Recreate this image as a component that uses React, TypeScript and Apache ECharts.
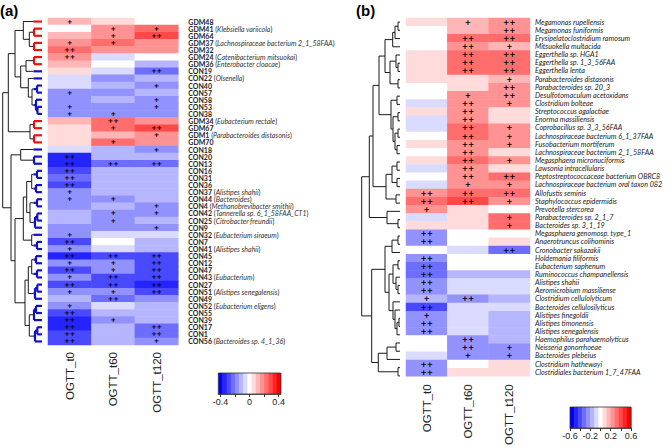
import React, { useEffect, useRef } from "react";
import * as echarts from "echarts";

// ---------------- data ----------------
const timepoints = ["OGTT_t0", "OGTT_t60", "OGTT_t120"];

const samplesA = ["GDM48","GDM41","GDM64","GDM37","GDM32","GDM24","GDM36","CON19","CON22","CON40","CON57","CON58","CON53","CON38","GDM34","GDM67","GDM1","GDM70","CON18","CON20","CON13","CON16","CON31","CON36","CON37","CON44","CON4","CON42","CON25","CON9","CON32","CON7","CON41","CON45","CON12","CON47","CON43","CON27","CON51","CON49","CON52","CON55","CON39","CON17","CON1","CON56"];
const taxaA = ["","Klebsiella variicola","","Lachnospiraceae bacterium 2_1_58FAA","","Catenibacterium mitsuokai","Enterobacter cloacae","","Olsenella","","","","","","Eubacterium rectale","","Parabacteroides distasonis","","","","","","","","Alistipes shahii","Bacteroides","Methanobrevibacter smithii","Tannerella sp. 6_1_58FAA_CT1","Citrobacter freundii","","Eubacterium siraeum","","Alistipes shahii","","","","Eubacterium","","Alistipes senegalensis","","Eubacterium eligens","","","","","Bacteroides sp. 4_1_36"];

const t0A = [0.12,0,0.1,0.17,0.22,0.17,0.1,0.05,-0.07,-0.07,-0.18,-0.17,-0.18,-0.2,0.1,0.06,0.06,0.06,-0.05,-0.36,-0.34,-0.27,-0.25,-0.3,-0.18,-0.17,-0.16,-0.12,-0.12,-0.15,-0.18,-0.26,-0.2,-0.34,-0.2,-0.27,-0.18,-0.27,-0.2,-0.12,-0.2,-0.27,-0.33,-0.32,-0.28,-0.28];
const t60A = [0.06,0.16,0.18,0.24,0.17,-0.05,0,-0.07,-0.17,-0.12,-0.17,-0.1,-0.15,-0.17,0.22,0.22,0.12,0.22,-0.12,-0.12,-0.25,-0.14,-0.12,-0.12,-0.12,-0.2,-0.12,-0.2,-0.17,-0.15,-0.05,0,-0.06,-0.27,-0.2,-0.2,-0.27,-0.28,-0.2,-0.25,-0.05,-0.1,-0.18,-0.1,-0.1,-0.1];
const t120A = [0,0.25,0.3,0.18,0.18,0,-0.1,-0.25,-0.14,-0.17,-0.12,-0.17,-0.18,-0.16,0.15,0.3,0.2,0.15,-0.2,-0.12,-0.25,-0.14,-0.12,-0.12,-0.12,-0.12,-0.17,-0.18,-0.12,-0.17,-0.07,-0.1,-0.1,-0.28,-0.28,-0.28,-0.28,-0.33,-0.28,-0.18,-0.1,-0.1,-0.1,-0.25,-0.25,-0.2];

const sigT0A = ["+","","","+","++","++","","","","","+","","+","+","","","","","","++","++","++","++","++","+","+","","","","","+","++","+","++","+","++","+","++","+","","+","++","++","++","++","++"];
const sigT60A = ["","+","+","+","","","","","","","","","","+","++","+","","+","","","++","","","","","+","","+","+","","","","","++","+","+","++","++","+","++","","","+","","",""];
const sigT120A = ["","+","++","","","","","++","","+","","+","+","","","++","+","","+","","++","","","","","","+","+","","+","","","","++","++","++","++","++","++","","","","","++","++","+"];

const speciesB = ["Megamonas rupellensis","Megamonas funiformis","Erysipelatoclostridium ramosum","Mitsuokella multacida","Eggerthella sp. HGA1","Eggerthella sp. 1_3_56FAA","Eggerthella lenta","Parabacteroides distasonis","Parabacteroides sp. 20_3","Desulfotomaculum acetoxidans","Clostridium bolteae","Streptococcus agalactiae","Enorma massiliensis","Coprobacillus sp. 3_3_56FAA","Lachnospiraceae bacterium 6_1_37FAA","Fusobacterium mortiferum","Lachnospiraceae bacterium 2_1_58FAA","Megasphaera micronuciformis","Lawsonia intracellularis","Peptostreptococcaceae bacterium OBRC8","Lachnospiraceae bacterium oral taxon 082","Allofustis seminis","Staphylococcus epidermidis","Prevotella stercorea","Parabacteroides sp. 2_1_7","Bacteroides sp. 3_1_19","Megasphaera genomosp. type_1","Anaerotruncus colihominis","Cronobacter sakazakii","Holdemania filiformis","Eubacterium saphenum","Ruminococcus champanellensis","Alistipes shahii","Aeromicrobium massiliense","Clostridium cellulolyticum","Bacteroides cellulosilyticus","Alistipes finegoldii","Alistipes timonensis","Alistipes senegalensis","Haemophilus parahaemolyticus","Neisseria gonorrhoeae","Bacteroides plebeius","Clostridium hathewayi","Clostridiales bacterium 1_7_47FAA"];

const t0B = [0.08,0,0,0,0.08,0.08,0.08,0.08,0,0,-0.08,0.08,-0.08,-0.08,0,0.08,0,0.08,-0.08,0,-0.08,0.24,0.33,0.26,-0.08,0.08,-0.25,-0.25,0,-0.26,-0.33,-0.34,-0.25,-0.26,-0.17,-0.38,-0.25,-0.25,-0.25,0,0,-0.08,-0.25,-0.25];
const t60B = [0.17,0.16,0.31,0.24,0.32,0.32,0.32,0.1,0.1,0.22,0.24,0.24,0.24,0.3,0.3,0.24,0.24,0.32,0.24,0.26,0.22,0.3,0.38,0.1,0.1,0.1,0,0,-0.08,0,0,-0.17,-0.08,-0.08,-0.25,-0.08,-0.08,-0.08,-0.08,-0.26,-0.26,-0.26,0,0.08];
const t120B = [0.22,0.22,0.33,0.14,0.31,0.31,0.31,0.17,0.22,0.22,0.22,0.08,0.05,0.22,0.22,0.22,0.1,0.22,0.1,0.3,0.22,0.33,0.22,0,0.3,0.3,0,0.08,-0.33,0,0,-0.17,-0.08,-0.08,-0.17,-0.08,-0.17,-0.17,-0.17,-0.17,-0.25,-0.25,0.08,0.08];

const sigT0B = ["","","","","","","","","","","","","","","","","","","","","","++","++","+","","","++","++","","++","++","++","++","++","+","++","+","++","++","","","","++","++"];
const sigT60B = ["+","","++","++","++","++","++","","","+","++","++","++","++","++","++","++","++","++","++","+","++","++","","","","","","","","","","","","++","","","","","++","++","+","",""];
const sigT120B = ["++","++","++","+","++","++","++","+","++","++","+","","","+","+","+","","+","","++","+","++","+","","+","+","","","++","","","","","","","","","","","","+","+","",""];

// dendrograms: [height, left, right]; leaves are row indices
const treeA: any = [39.3,
  [33.7,
    [27,
      [18.7, 0, [12.7, [8, 1, 2], [8, 3, 4]]],
      [21.3,
        [16, [8, 5, 6], 7],
        [13.7, 8, [10, [5, 9, 10], [6, 11, [4.5, 12, 13]]]]]],
    [12, [8, 14, 15], [8, 16, 17]]],
  [31,
    [21.3, 18, [8, 19, 20]],
    [27,
      [18.7,
        [15.3, [10.3, [5, 21, 22], [6, 23, 24]], [12, [5, 25, 26], [7, [4.7, 27, 28], 29]]],
        [10.3, 30, [5, 31, 32]]],
      [17,
        [13.7, [10.3, [6, 33, 34], [5, 35, 36]], [7, [4.7, 37, 38], 39]],
        [12.7, [8, [6, 40, 41], 42], [7, [4.7, 43, 44], 45]]]]]];

const treeB: any = [38.3,
  [30.7,
    [27,
      [21,
        [15,
          [7.3, [5, [2, 0, 1], 2], 3],
          [10, [4, 4, [2, 5, 6]], [2, 7, 8]]],
        [9, [3, 9, 10], [7, [2, 11, 12], [5, [2, 13, 14], [3, 15, 16]]]]],
      [14, [8, [3, 17, 18], [3, 19, 20]], [4, 21, 22]]],
    [13, 23, [2, 24, 25]]],
  [28.3,
    [15,
      [8, [2, 26, 27], 28],
      [11,
        [7, [2, 29, 30], [4, 31, [2, 32, 33]]],
        [7, 34, [5, 35, [3, [1, 36, 37], 38]]]]],
    [21.7, [13, [4, 39, 40], 41], [2, 42, 43]]]];

// ---------------- helpers ----------------
const NBINS = 15;
function palette(n: number): string[] {
  const out: string[] = [];
  for (let k = 0; k < n; k++) {
    const t = k / (n - 1);
    let r: number, g: number, b: number;
    if (t < 0.5) { const v = Math.round(255 * 2 * t); r = v; g = v; b = 255; }
    else { const v = Math.round(255 * (2 - 2 * t)); r = 255; g = v; b = v; }
    out.push(`rgb(${r},${g},${b})`);
  }
  return out;
}
const PAL = palette(NBINS);
function pieces(R: number) {
  const w = (2 * R) / NBINS;
  return PAL.map((c, k) => {
    const p: any = { color: c };
    if (k > 0) p.gte = -R + w * k;
    if (k < NBINS - 1) p.lt = -R + w * (k + 1);
    return p;
  });
}
function keyBins(R: number) {
  const w = (2 * R) / NBINS;
  const d: number[][] = PAL.map((_, k) => [-R + w * k, -R + w * (k + 1), k]);
  d.push([-R, R, -1]);
  return d;
}

const BLACK = "#1a1a1a";
type Seg = { h1: number; y1: number; h2: number; y2: number; color: string; w: number };
function buildDendro(tree: any, leafColor: (i: number) => string | null, cut: number): Seg[] {
  const segs: Seg[] = [];
  const addH = (h0: number, h1: number, y: number, col: string | null) => {
    if (col && h0 < cut) {
      segs.push({ h1: h0, y1: y, h2: Math.min(h1, cut), y2: y, color: col, w: 2.2 });
      if (h1 > cut) segs.push({ h1: cut, y1: y, h2: h1, y2: y, color: BLACK, w: 1 });
    } else segs.push({ h1: h0, y1: y, h2: h1, y2: y, color: BLACK, w: 1 });
  };
  const rec = (node: any): { y: number; h: number; col: string | null } => {
    if (typeof node === "number") return { y: node, h: 0, col: leafColor(node) };
    const [h, l, r] = node;
    const a = rec(l), b = rec(r);
    addH(a.h, h, a.y, a.col);
    addH(b.h, h, b.y, b.col);
    const col = a.col && a.col === b.col ? a.col : null;
    const vcol = col && h <= cut ? col : null;
    segs.push({ h1: h, y1: a.y, h2: h, y2: b.y, color: vcol || BLACK, w: vcol ? 2.2 : 1 });
    return { y: (a.y + b.y) / 2, h, col };
  };
  rec(tree);
  return segs;
}

const segsA = buildDendro(treeA, (i) => (samplesA[i].startsWith("GDM") ? "#ee1111" : "#1111cc"), 8.5);
const segsB = buildDendro(treeB, () => null, 0);

function cells(cols: number[][], sigs: string[][]) {
  const out: any[] = [];
  cols.forEach((col, x) => col.forEach((v, y) => out.push([x, y, v, sigs[x][y]])));
  return out;
}

function dendroSeries(segs: Seg[], idx: number) {
  return {
    type: "custom",
    xAxisIndex: idx,
    yAxisIndex: idx,
    clip: false,
    silent: true,
    encode: { x: [0, 2], y: [1, 3] },
    data: segs.map((s, i) => [s.h1, s.y1, s.h2, s.y2, i]),
    renderItem: (_p: any, api: any) => {
      const s = segs[api.value(4)];
      const p1 = api.coord([s.h1, s.y1]);
      const p2 = api.coord([s.h2, s.y2]);
      return {
        type: "line",
        shape: { x1: p1[0], y1: p1[1], x2: p2[0], y2: p2[1] },
        style: { stroke: s.color, lineWidth: s.w, lineCap: "butt" },
      };
    },
  };
}

function keySeries(R: number, idx: number) {
  return {
    type: "custom",
    xAxisIndex: idx,
    yAxisIndex: idx,
    silent: true,
    clip: false,
    data: keyBins(R),
    renderItem: (_p: any, api: any) => {
      const k = api.value(2);
      const p1 = api.coord([api.value(0), 1]);
      const p2 = api.coord([api.value(1), 0]);
      if (k < 0) {
        return {
          type: "rect",
          shape: { x: p1[0], y: p1[1], width: p2[0] - p1[0], height: p2[1] - p1[1] },
          style: { fill: "none", stroke: "#333", lineWidth: 0.8 },
          z2: 10,
        };
      }
      return {
        type: "rect",
        shape: { x: p1[0], y: p1[1], width: p2[0] - p1[0] + 0.4, height: p2[1] - p1[1] },
        style: { fill: PAL[k] },
      };
    },
  };
}

function heatSeries(data: any[], idx: number, fontSize: number, lineHeight: number) {
  return {
    type: "heatmap",
    xAxisIndex: idx,
    yAxisIndex: idx,
    data,
    itemStyle: { borderWidth: 0 },
    emphasis: { disabled: true },
    label: {
      show: true,
      formatter: (p: any) => (p.value && p.value[3]) || "",
      fontSize,
      lineHeight,
      fontWeight: "bold",
      color: "#000",
      fontFamily: "DejaVu Sans",
    },
  };
}

const hidden = { show: false };
const xLabelAxis = (gridIndex: number, margin: number) => ({
  type: "category",
  gridIndex,
  data: timepoints,
  axisLine: hidden,
  axisTick: hidden,
  splitLine: hidden,
  axisLabel: { rotate: 90, margin, fontSize: 11.5, color: "#222", fontFamily: "Liberation Sans", interval: 0 },
});

const option: any = {
  animation: false,
  backgroundColor: "#fff",
  title: [
    { text: "(a)", left: 0, top: 3, padding: 0, textStyle: { fontSize: 15, fontWeight: "bold", fontFamily: "Liberation Sans", color: "#000" } },
    { text: "(b)", left: 356, top: 3, padding: 0, textStyle: { fontSize: 15, fontWeight: "bold", fontFamily: "Liberation Sans", color: "#000" } },
  ],
  grid: [
    { left: 2.7, top: 18, width: 39.3, height: 327 },
    { left: 48, top: 18, width: 130.3, height: 327 },
    { left: 218.3, top: 373, width: 62.5, height: 21 },
    { left: 361.7, top: 18, width: 38.3, height: 362 },
    { left: 406, top: 18, width: 124, height: 362 },
    { left: 570, top: 407, width: 61, height: 21 },
  ],
  xAxis: [
    { type: "value", gridIndex: 0, min: 0, max: 39.3, inverse: true, show: false },
    xLabelAxis(1, 7),
    {
      type: "value", gridIndex: 2, min: -0.43, max: 0.43,
      axisLine: { show: true, lineStyle: { color: "#333", width: 0.8 } },
      axisTick: { show: true, length: 3, customValues: [-0.4, -0.2, 0, 0.2, 0.4], lineStyle: { color: "#333" } },
      axisLabel: { customValues: [-0.4, 0, 0.4], fontSize: 9, margin: 3, color: "#222", fontFamily: "Liberation Sans" },
      splitLine: hidden,
    },
    { type: "value", gridIndex: 3, min: 0, max: 38.3, inverse: true, show: false },
    xLabelAxis(4, 8),
    {
      type: "value", gridIndex: 5, min: -0.6, max: 0.6,
      axisLine: { show: true, lineStyle: { color: "#333", width: 0.8 } },
      axisTick: { show: true, length: 3, customValues: [-0.6, -0.4, -0.2, 0, 0.2, 0.4, 0.6], lineStyle: { color: "#333" } },
      axisLabel: { customValues: [-0.6, -0.2, 0.2, 0.6], fontSize: 9, margin: 3, color: "#222", fontFamily: "Liberation Sans" },
      splitLine: hidden,
    },
  ],
  yAxis: [
    { type: "value", gridIndex: 0, min: -0.5, max: samplesA.length - 0.5, inverse: true, show: false },
    {
      type: "category", gridIndex: 1, data: samplesA, inverse: true, position: "right",
      axisLine: hidden, axisTick: hidden, splitLine: hidden,
      axisLabel: {
        interval: 0, margin: 10, fontSize: 7, lineHeight: 7, color: "#222", fontFamily: "Lato",
        formatter: (v: string, i: number) => (taxaA[i] ? `{id|${v}} ({sp|${taxaA[i]}})` : `{id|${v}}`),
        rich: {
          id: { fontSize: 7, lineHeight: 7, fontWeight: "bold", fontFamily: "Lato", color: "#222" },
          sp: { fontSize: 7, lineHeight: 7, fontStyle: "italic", fontFamily: "Lato", color: "#333" },
        },
      },
    },
    { type: "value", gridIndex: 2, min: 0, max: 1, show: false },
    { type: "value", gridIndex: 3, min: -0.5, max: speciesB.length - 0.5, inverse: true, show: false },
    {
      type: "category", gridIndex: 4, data: speciesB, inverse: true, position: "right",
      axisLine: hidden, axisTick: hidden, splitLine: hidden,
      axisLabel: { interval: 0, margin: 5, fontSize: 7.2, lineHeight: 8, fontStyle: "italic", color: "#222", fontFamily: "Lato" },
    },
    { type: "value", gridIndex: 5, min: 0, max: 1, show: false },
  ],
  visualMap: [
    { type: "piecewise", show: false, seriesIndex: 1, dimension: 2, pieces: pieces(0.43) },
    { type: "piecewise", show: false, seriesIndex: 4, dimension: 2, pieces: pieces(0.6) },
  ],
  series: [
    dendroSeries(segsA, 0),
    heatSeries(cells([t0A, t60A, t120A], [sigT0A, sigT60A, sigT120A]), 1, 6.5, 7),
    keySeries(0.43, 2),
    dendroSeries(segsB, 3),
    heatSeries(cells([t0B, t60B, t120B], [sigT0B, sigT60B, sigT120B]), 4, 7.5, 8),
    keySeries(0.6, 5),
  ],
};

export default function App() {
  const ref = useRef<HTMLDivElement>(null);
  useEffect(() => {
    const chart = echarts.init(ref.current!, null, { renderer: "svg" });
    chart.setOption(option);
    return () => chart.dispose();
  }, []);
  return (
    <div
      ref={ref}
      style={{ position: "fixed", left: 0, top: 0, width: 672, height: 448, background: "#fff" }}
    />
  );
}
